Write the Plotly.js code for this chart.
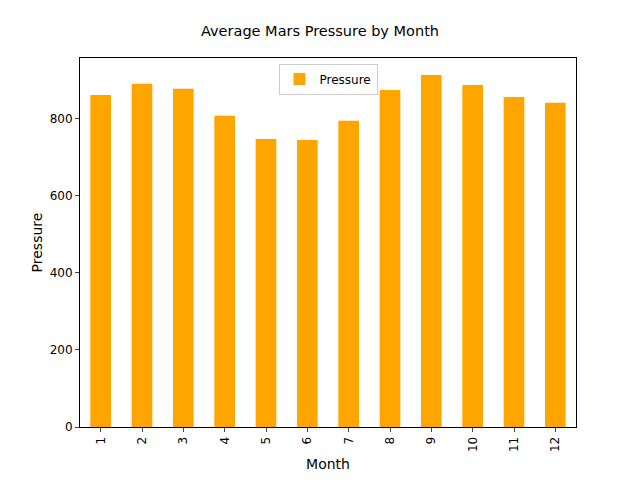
<!DOCTYPE html>
<html>
<head>
<script src="https://cdn.plot.ly/plotly-3.0.1.min.js"></script>
<style>body{margin:0}</style>
</head>
<body>
<div id="chart" style="width:640px;height:480px"></div>
<script>
var months = ["1","2","3","4","5","6","7","8","9","10","11","12"];
var pressure = [862, 891, 878, 808, 748, 745, 795, 875, 914, 888, 857, 842];

var data = [{
  x: months,
  y: pressure,
  type: "bar",
  name: "Pressure",
  width: 0.5,
  marker: {color: "#ffa500"},
  showlegend: true
}];

var layout = {
  width: 640, height: 480,
  margin: {l: 80, r: 64, t: 58, b: 53},
  paper_bgcolor: "white", plot_bgcolor: "white",
  font: {family: "DejaVu Sans", size: 12, color: "black"},
  title: {text: "Average Mars Pressure by Month", font: {size: 14.5}, x: 0.5, y: 0.925, yanchor: "bottom"},
  showlegend: true,
  legend: {x: 0.5, xanchor: "center", y: 0.985, yanchor: "top", bordercolor: "#cccccc", borderwidth: 1, font: {size: 12}},
  xaxis: {
    title: {text: "Month", standoff: 8},
    type: "category", range: [-0.5, 11.5],
    tickangle: -90, ticks: "outside", ticklen: 4,
    showline: true, mirror: true, linecolor: "black", showgrid: false
  },
  yaxis: {
    title: {text: "Pressure"},
    range: [0, 958], tickvals: [0, 200, 400, 600, 800],
    ticks: "outside", ticklen: 4,
    showline: true, mirror: true, linecolor: "black", showgrid: false, zeroline: false
  }
};

Plotly.newPlot("chart", data, layout, {displayModeBar: false});
</script>
</body>
</html>
